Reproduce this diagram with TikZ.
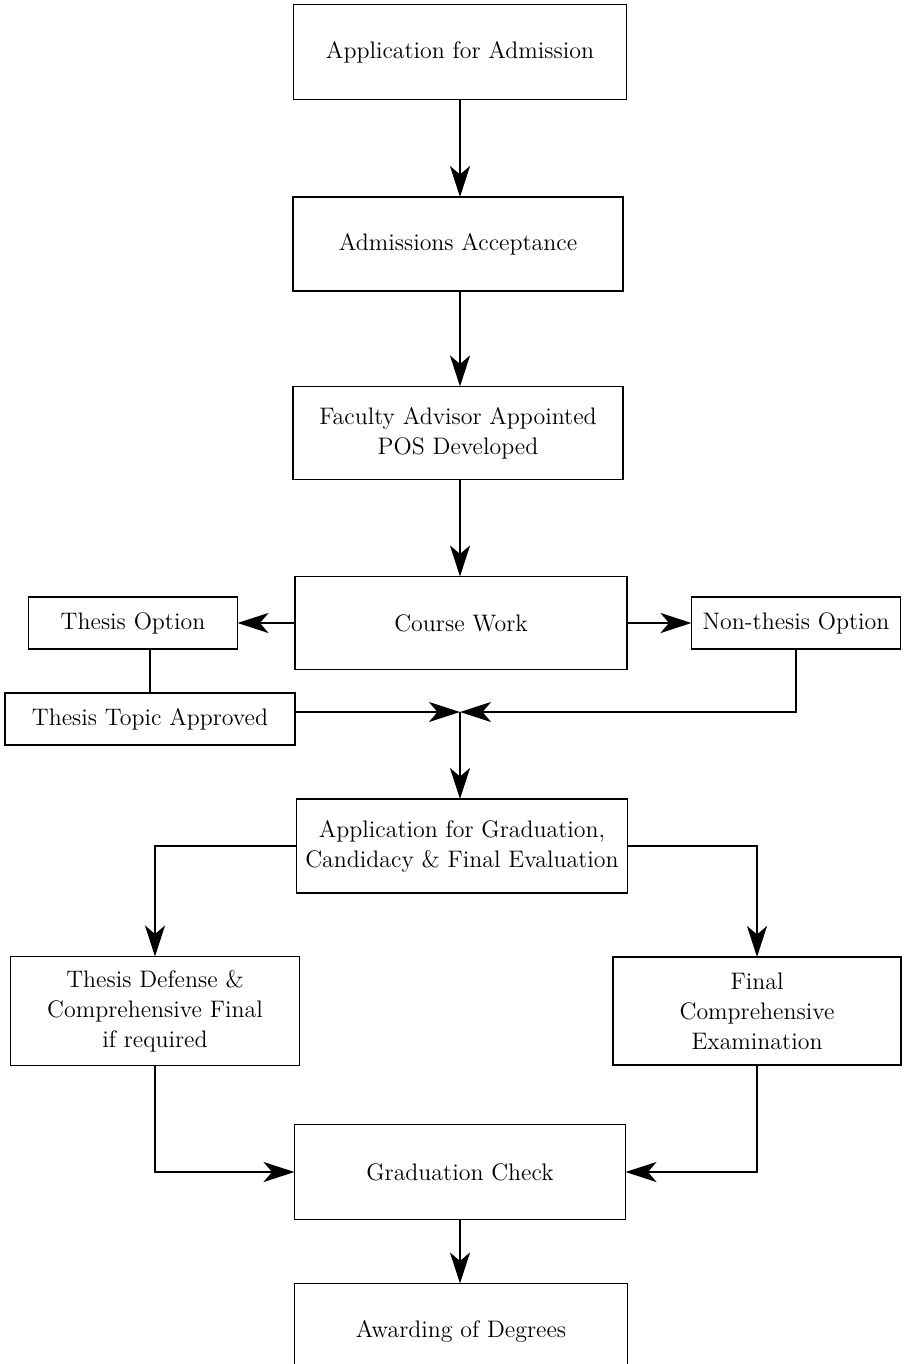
\documentclass[tikz,border=0pt]{standalone}
\usetikzlibrary{arrows.meta}

\tikzset{
  box/.style={draw, line width=1pt, inner sep=0pt, outer sep=0pt, align=center,
    font=\fontsize{13.6}{17}\selectfont},
  flow/.style={line width=1.5pt, -{Stealth[length=0.62cm, width=0.4cm, inset=0.17cm]}},
  link/.style={line width=1.5pt}
}

\begin{document}
\begin{tikzpicture}[x=0.02cm, y=-0.02cm]
  \useasboundingbox (0,0) rectangle (906,1364);

  % main column
  \node [box, minimum width=6.66cm, minimum height=1.9cm] (admit) at (460,52)
    {Application for Admission};
  \node [box, minimum width=6.6cm, minimum height=1.88cm] (accept) at (458,244)
    {Admissions Acceptance};
  \node [box, minimum width=6.6cm, minimum height=1.86cm] (advisor) at (458,433)
    {Faculty Advisor Appointed\\POS Developed};
  \node [box, minimum width=6.64cm, minimum height=1.86cm] (course) at (461,623)
    {Course Work};

  % options
  \node [box, minimum width=4.18cm, minimum height=1.04cm] (thesis) at (133,623)
    {Thesis Option};
  \node [box, minimum width=4.18cm, minimum height=1.04cm] (nonthesis) at (796,623)
    {Non-thesis Option};
  \node [box, minimum width=5.8cm, minimum height=1.04cm] (topic) at (150,719)
    {Thesis Topic Approved};
  \coordinate (join) at (460,712);

  \node [box, minimum width=6.62cm, minimum height=1.88cm] (gradapp) at (462,846)
    {Application for Graduation,\\Candidacy \& Final Evaluation};
  \node [box, minimum width=5.78cm, minimum height=2.18cm] (defense) at (155,1011)
    {Thesis Defense \&\\Comprehensive Final\\if required};
  \node [box, minimum width=5.76cm, minimum height=2.16cm] (exam) at (757,1011)
    {Final\\Comprehensive\\Examination};
  \node [box, minimum width=6.62cm, minimum height=1.9cm] (check) at (460,1172)
    {Graduation Check};
  \node [box, minimum width=6.66cm, minimum height=1.9cm] (award) at (461,1331)
    {Awarding of Degrees};

  \draw [flow] (admit.south -| join) -- (accept.north -| join);
  \draw [flow] (accept.south -| join) -- (advisor.north -| join);
  \draw [flow] (advisor.south -| join) -- (course.north -| join);
  \draw [flow] (course.west) -- (thesis.east);
  \draw [flow] (course.east) -- (nonthesis.west);
  \draw [link] (thesis.south -| topic.north) -- (topic.north);
  \draw [flow] (topic.east |- join) -- (join);
  \draw [flow] (nonthesis.south) |- (join);
  \draw [flow] (join) -- (gradapp.north -| join);
  \draw [flow] (gradapp.west) -| (defense.north);
  \draw [flow] (gradapp.east) -| (exam.north);
  \draw [flow] (defense.south) |- (check.west);
  \draw [flow] (exam.south) |- (check.east);
  \draw [flow] (check.south -| join) -- (award.north -| join);
\end{tikzpicture}
\end{document}
